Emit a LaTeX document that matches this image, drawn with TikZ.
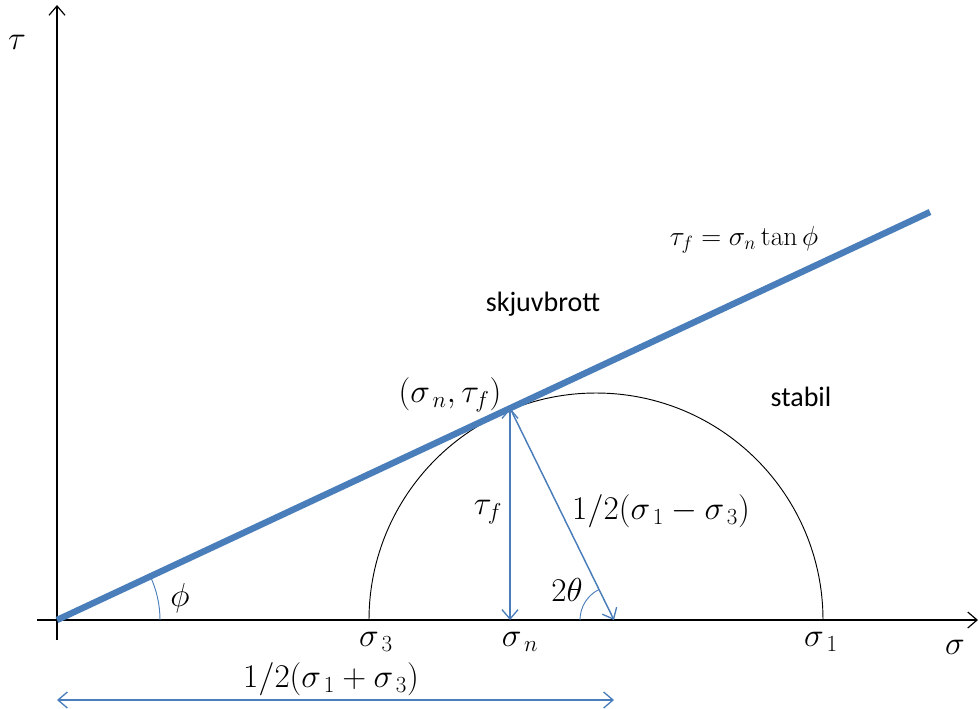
\documentclass[tikz,border=0pt]{standalone}
\usepackage[no-math]{fontspec}
\setmainfont{Carlito}
\usetikzlibrary{arrows.meta}
\definecolor{mblue}{RGB}{74,126,187}
\tikzset{
  px/.style={x=0.75pt,y=-0.75pt},
  mytip/.tip={Straight Barb[length=7pt,width=12pt,line width=1pt]},
  axis/.style={line width=1.1pt,-{Straight Barb[length=7pt,width=12pt,line width=0.9pt]}},
  barrow/.style={mblue,line width=1.1pt},
  lbl/.style={inner sep=0pt,font=\fontsize{21}{25}\selectfont},
  mlbl/.style={inner sep=0pt,font=\fontsize{23.5}{28}\selectfont},
  eqlbl/.style={inner sep=0pt,font=\fontsize{21}{25}\selectfont},
}
\begin{document}
\begin{tikzpicture}[px]
\useasboundingbox (0,0) rectangle (979,708);
% coordinates
\coordinate (O) at (57,620);
\coordinate (ybot) at (57,640);
\coordinate (ytop) at (57,5);
\coordinate (xl) at (37,620);
\coordinate (xr) at (978,620);
\coordinate (Lend) at (930,212);
\coordinate (T) at (510,408);
\coordinate (Tf) at (510,620);
\coordinate (C) at (614,620);
\coordinate (S3) at (369,620);
\coordinate (S1) at (823,620);
\coordinate (Bl) at (57,700);
\coordinate (Br) at (614,700);
% axes
\draw[axis] (ybot) -- (ytop);
\draw[axis] (xl) -- (xr);
% diameter and semicircle
\draw[line width=1.6pt] (S3) -- (S1);
\draw[line width=0.7pt] (S1) arc[start angle=0,end angle=-180,radius=227];
% failure line
\draw[mblue,line width=4.8pt] (O) -- (Lend);
% arrows
\draw[barrow,{mytip}-{mytip}] (T) -- (Tf);
\draw[barrow,-{mytip}] (T) -- (C);
\draw[barrow,{mytip}-{mytip}] (Bl) -- (Br);
% angle arcs
\draw[mblue,line width=0.7pt] (160,620) arc[start angle=0,end angle=-25,radius=103];
\draw[mblue,line width=0.7pt] (580,620) arc[start angle=180,end angle=244,radius=34];
% labels
\node[mlbl] (tau) at (17,42) {$\tau$};
\node[eqlbl] (eq) at (744,240) {$\tau_f=\sigma_n\tan\phi$};
\node[lbl] (sk) at (543,304) {skjuvbrott};
\node[lbl] (st) at (801,397) {stabil};
\node[mlbl] (pt) at (450,395) {$(\sigma_{\,n},\tau_f)$};
\node[mlbl] (tf) at (488,512) {$\tau_f$};
\node[mlbl] (rad) at (661,511) {$1/2(\sigma_{\,1}-\sigma_{\,3})$};
\node[mlbl] (th) at (567,590) {$2\theta$};
\node[mlbl] (ph) at (180,598) {$\phi$};
\node[mlbl] (s3) at (376,642) {$\sigma_{\,3}$};
\node[mlbl] (sn) at (520,642) {$\sigma_{\,n}$};
\node[mlbl] (s1) at (821,642) {$\sigma_{\,1}$};
\node[mlbl] (sig) at (955,647) {$\sigma$};
\node[mlbl] (half) at (331,679) {$1/2(\sigma_{\,1}+\sigma_{\,3})$};
\end{tikzpicture}
\end{document}
